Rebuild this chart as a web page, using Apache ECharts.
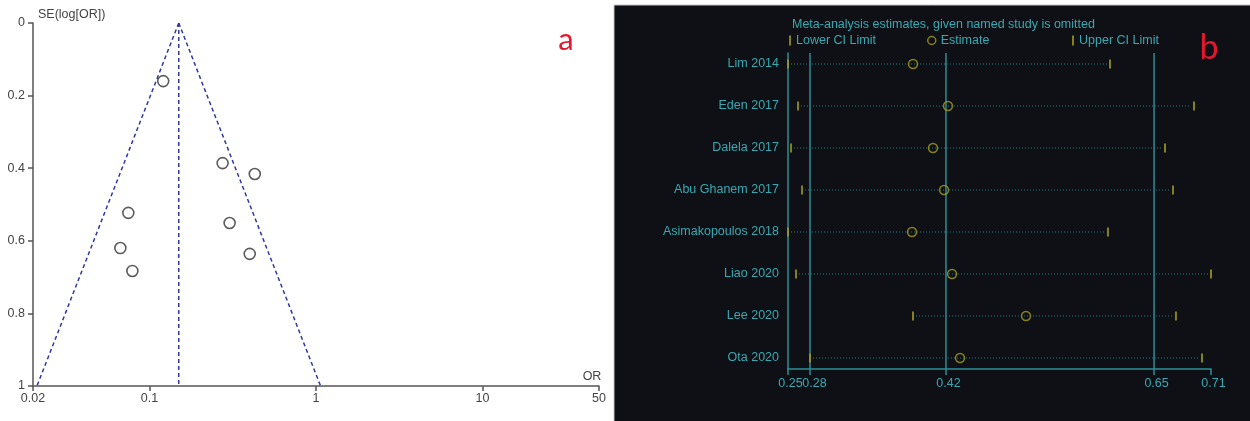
<!DOCTYPE html>
<html>
<head>
<meta charset="utf-8">
<script src="https://cdn.jsdelivr.net/npm/echarts@6/dist/echarts.min.js"></script>
<style>
html,body{margin:0;padding:0;background:#ffffff;}
#chart{width:1250px;height:421px;}
</style>
</head>
<body>
<div id="chart"></div>
<script>
// ---------- Panel a: funnel plot ----------
const funnelOR = [0.121, 0.275, 0.429, 0.0747, 0.303, 0.0669, 0.40, 0.079];
const funnelSE = [0.160, 0.386, 0.416, 0.523, 0.551, 0.620, 0.636, 0.683];
const pooledOR = 0.15;
const seMax = 1;
const funnelXTicks = [0.02, 0.1, 1, 10, 50];

// ---------- Panel b: sensitivity analysis ----------
const studies = ['Lim 2014', 'Eden 2017', 'Dalela 2017', 'Abu Ghanem 2017',
                 'Asimakopoulos 2018', 'Liao 2020', 'Lee 2020', 'Ota 2020'];
const lowerCI  = [0.2516, 0.2625, 0.2549, 0.2668, 0.2516, 0.2603, 0.3875, 0.2755];
const estimate = [0.3875, 0.4255, 0.4092, 0.4212, 0.3864, 0.4299, 0.5103, 0.4386];
const upperCI  = [0.6016, 0.6929, 0.6614, 0.6701, 0.5994, 0.7114, 0.6733, 0.7016];
const overallLines = [0.2755, 0.4233, 0.6495];
const sensXTicks = [0.2516, 0.2755, 0.4233, 0.6495, 0.7114];
// labels split over two overlaid axes so the adjacent 0.25 / 0.28 labels are both kept
const sensXLabelsMain = [0.2516, 0.4233, 0.6495, 0.7114];
const sensXLabelsExtra = [0.2755];

const TEAL = '#3aa8b1';
const TEAL_LINE = '#2c8e95';
const TEAL_DOT = '#1f7a80';
const OLIVE = '#a39d1f';
const FONT = 'Liberation Sans, Arial, sans-serif';

const z196 = 1.96;
const funnelLeft = [[pooledOR, 0], [pooledOR * Math.exp(-z196 * seMax), seMax]];
const funnelRight = [[pooledOR, 0], [pooledOR * Math.exp(z196 * seMax), seMax]];
const funnelMid = [[pooledOR, 0], [pooledOR, seMax]];

const chart = echarts.init(document.getElementById('chart'), null, {renderer: 'canvas'});

const dashStyle = {color: '#2f3aa0', width: 1.5, type: [4, 3]};
const legendText = {color: TEAL, fontSize: 12.5, fontFamily: FONT};
const sensLabelBase = {color: TEAL, fontSize: 12.5, margin: 8, hideOverlap: false,
                       showMinLabel: true, showMaxLabel: true, formatter: v => v.toFixed(2)};

const option = {
  animation: false,
  backgroundColor: '#ffffff',
  textStyle: {fontFamily: FONT},
  title: {
    text: 'Meta-analysis estimates, given named study is omitted',
    left: 787, top: 13,
    textStyle: {color: TEAL, fontSize: 12.5, fontWeight: 'normal', fontFamily: FONT}
  },
  legend: [
    {data: ['Lower CI Limit'], left: 789, top: 34, padding: 0, icon: 'rect', itemWidth: 2, itemHeight: 10,
     textStyle: legendText, selectedMode: false},
    {data: ['Estimate'], left: 927, top: 34, padding: 0, icon: 'circle', itemWidth: 8, itemHeight: 8,
     itemStyle: {color: 'rgba(0,0,0,0)', borderColor: OLIVE, borderWidth: 1.5},
     textStyle: legendText, selectedMode: false},
    {data: ['Upper CI Limit'], left: 1072, top: 34, padding: 0, icon: 'rect', itemWidth: 2, itemHeight: 10,
     textStyle: legendText, selectedMode: false}
  ],
  graphic: [
    {type: 'rect', z: -10, silent: true,
     shape: {x: 614, y: 5, width: 640, height: 420},
     style: {fill: '#0f1015', stroke: '#c8c8c8', lineWidth: 1}},
    {type: 'text', z: 10, silent: true,
     style: {text: 'a', x: 566, y: 40, fill: '#e3172d', font: '31px Lato, "Open Sans", sans-serif',
             textAlign: 'center', textVerticalAlign: 'middle'}},
    {type: 'text', z: 10, silent: true,
     style: {text: 'b', x: 1209, y: 48, fill: '#e3172d', font: '34px Lato, "Open Sans", sans-serif',
             textAlign: 'center', textVerticalAlign: 'middle'}}
  ],
  grid: [
    {left: 33, top: 23, width: 566, height: 363, containLabel: false},
    {left: 788, top: 53, width: 423, height: 316, containLabel: false}
  ],
  xAxis: [
    {
      gridIndex: 0, type: 'log', logBase: 10, min: 0.02, max: 50, position: 'bottom',
      name: 'OR', nameLocation: 'end', nameGap: -7,
      nameTextStyle: {color: '#444', fontSize: 12.5, align: 'center', verticalAlign: 'bottom', padding: [0, 0, 3, 0]},
      axisLine: {show: true, onZero: false, lineStyle: {color: '#555', width: 1.5}},
      axisTick: {show: true, length: 5, lineStyle: {color: '#555', width: 1.5}, customValues: funnelXTicks},
      axisLabel: {color: '#444', fontSize: 12.5, margin: 6, customValues: funnelXTicks,
                  showMinLabel: true, showMaxLabel: true,
                  formatter: v => String(+v.toPrecision(2))},
      splitLine: {show: false}, minorTick: {show: false}
    },
    {
      gridIndex: 1, type: 'value', min: sensXTicks[0], max: sensXTicks[sensXTicks.length - 1], position: 'bottom',
      axisLine: {show: true, onZero: false, lineStyle: {color: TEAL_LINE, width: 1.5}},
      axisTick: {show: true, length: 6, lineStyle: {color: TEAL_LINE, width: 1.5}, customValues: sensXTicks},
      axisLabel: Object.assign({customValues: sensXLabelsMain, padding: [0, 0, 0, 5]}, sensLabelBase),
      splitLine: {show: false}
    },
    {
      gridIndex: 1, type: 'value', min: sensXTicks[0], max: sensXTicks[sensXTicks.length - 1], position: 'bottom',
      offset: 0,
      axisLine: {show: false, onZero: false},
      axisTick: {show: false},
      axisLabel: Object.assign({customValues: sensXLabelsExtra, padding: [0, 0, 0, 9]}, sensLabelBase),
      splitLine: {show: false}
    }
  ],
  yAxis: [
    {
      gridIndex: 0, type: 'value', inverse: true, min: 0, max: 1, interval: 0.2,
      name: 'SE(log[OR])', nameLocation: 'start', nameGap: 2,
      nameTextStyle: {color: '#444', fontSize: 12.5, align: 'left', verticalAlign: 'bottom', padding: [0, 0, 0, 5]},
      axisLine: {show: true, onZero: false, lineStyle: {color: '#555', width: 1.5}},
      axisTick: {show: true, length: 5, lineStyle: {color: '#555', width: 1.5}},
      axisLabel: {color: '#444', fontSize: 12.5, margin: 8, showMinLabel: true, showMaxLabel: true},
      splitLine: {show: false}
    },
    {
      gridIndex: 1, type: 'value', inverse: true, min: 0.738, max: 8.262,
      axisLine: {show: true, onZero: false, lineStyle: {color: TEAL_LINE, width: 1.5}},
      axisTick: {show: false},
      axisLabel: {color: TEAL, fontSize: 12.5, margin: 9,
                  customValues: studies.map((s, i) => i + 1),
                  formatter: v => studies[Math.round(v) - 1] || ''},
      splitLine: {show: false}
    }
  ],
  series: [
    {type: 'line', xAxisIndex: 0, yAxisIndex: 0, data: funnelLeft, symbol: 'none', lineStyle: dashStyle, silent: true},
    {type: 'line', xAxisIndex: 0, yAxisIndex: 0, data: funnelRight, symbol: 'none', lineStyle: dashStyle, silent: true},
    {type: 'line', xAxisIndex: 0, yAxisIndex: 0, data: funnelMid, symbol: 'none', lineStyle: dashStyle, silent: true},
    {type: 'scatter', xAxisIndex: 0, yAxisIndex: 0, symbol: 'circle', symbolSize: 11,
     data: funnelOR.map((v, i) => [v, funnelSE[i]]),
     itemStyle: {color: 'rgba(255,255,255,0)', borderColor: '#333', borderWidth: 1.6}, z: 5},

    // overall-estimate reference lines (lower CI, estimate, upper CI)
    {type: 'custom', xAxisIndex: 1, yAxisIndex: 1, silent: true, z: 3, clip: false,
     data: overallLines.map(v => [v, 4.5]),
     encode: {x: 0, y: 1},
     renderItem: (params, api) => {
       const p = api.coord([api.value(0), api.value(1)]);
       const cs = params.coordSys;
       return {type: 'line', shape: {x1: p[0], y1: cs.y, x2: p[0], y2: cs.y + cs.height},
               style: {stroke: TEAL_LINE, lineWidth: 1.5}};
     }
    },
    // dotted CI spans
    {type: 'custom', xAxisIndex: 1, yAxisIndex: 1, silent: true, z: 4,
     data: studies.map((s, i) => [lowerCI[i], upperCI[i], i + 1]),
     encode: {x: [0, 1], y: 2},
     renderItem: (params, api) => {
       const p1 = api.coord([api.value(0), api.value(2)]);
       const p2 = api.coord([api.value(1), api.value(2)]);
       return {type: 'line', shape: {x1: p1[0] + 3, y1: p1[1], x2: p2[0] - 3, y2: p2[1]},
               style: {stroke: TEAL_DOT, lineWidth: 1, lineDash: [1, 2]}};
     }
    },
    {name: 'Lower CI Limit', type: 'scatter', xAxisIndex: 1, yAxisIndex: 1, symbol: 'rect', symbolSize: [2, 9],
     data: lowerCI.map((v, i) => [v, i + 1]), itemStyle: {color: OLIVE}, z: 6},
    {name: 'Upper CI Limit', type: 'scatter', xAxisIndex: 1, yAxisIndex: 1, symbol: 'rect', symbolSize: [2, 9],
     data: upperCI.map((v, i) => [v, i + 1]), itemStyle: {color: OLIVE}, z: 6},
    {name: 'Estimate', type: 'scatter', xAxisIndex: 1, yAxisIndex: 1, symbol: 'circle', symbolSize: 9,
     data: estimate.map((v, i) => [v, i + 1]),
     itemStyle: {color: 'rgba(0,0,0,0)', borderColor: OLIVE, borderWidth: 1.5}, z: 6}
  ]
};

chart.setOption(option);
</script>
</body>
</html>
